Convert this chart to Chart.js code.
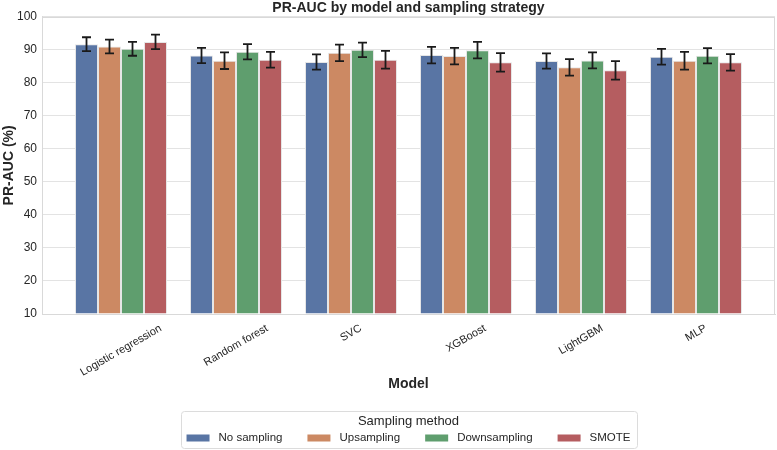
<!DOCTYPE html>
<html>
<head>
<meta charset="utf-8">
<script src="https://cdn.jsdelivr.net/npm/chart.js@4"></script>
<style>
  html, body { margin: 0; padding: 0; background: #fff; }
  #wrap { width: 777px; height: 450px; }
</style>
</head>
<body>
<div id="wrap"><canvas id="chart"></canvas></div>
<script>
// values (PR-AUC %, with error bar half-lengths)
var models = ['Logistic regression', 'Random forest', 'SVC', 'XGBoost', 'LightGBM', 'MLP'];
var methods = ['No sampling', 'Upsampling', 'Downsampling', 'SMOTE'];
var yTicks = [10, 20, 30, 40, 50, 60, 70, 80, 90, 100];

var noSampling      = [91.7, 88.3, 86.3, 88.4, 86.6, 87.9];
var noSamplingErr   = [2.1, 2.3, 2.3, 2.5, 2.3, 2.4];
var upsampling      = [91.0, 86.7, 89.1, 88.1, 84.7, 86.7];
var upsamplingErr   = [2.1, 2.5, 2.5, 2.5, 2.5, 2.7];
var downsampling    = [90.3, 89.4, 90.0, 89.9, 86.8, 88.2];
var downsamplingErr = [2.1, 2.3, 2.2, 2.5, 2.4, 2.3];
var smote           = [92.4, 87.0, 87.0, 86.2, 83.8, 86.2];
var smoteErr        = [2.2, 2.4, 2.7, 2.8, 2.8, 2.5];

var colors = ['#5975a4', '#cc8963', '#5f9e6e', '#b55d60'];
var seriesValues = [noSampling, upsampling, downsampling, smote];
var seriesErrs = [noSamplingErr, upsamplingErr, downsamplingErr, smoteErr];

Chart.defaults.font.family = "'Liberation Sans', Arial, sans-serif";
Chart.defaults.color = '#262626';

var datasets = [];
for (var s = 0; s < methods.length; s++) {
  datasets.push({
    label: methods[s],
    data: seriesValues[s].map(function (v, i) { return { x: i, y: v }; }),
    errs: seriesErrs[s],
    backgroundColor: colors[s],
    borderColor: '#e6e6e6',
    borderWidth: 1,
    borderSkipped: 'start',
    base: 10,
    categoryPercentage: 0.8,
    barPercentage: 1.0
  });
}

// light frame round the plot (seaborn whitegrid spines)
var frame = {
  id: 'frame',
  beforeDatasetsDraw: function (chart) {
    var a = chart.chartArea, ctx = chart.ctx;
    ctx.save();
    ctx.strokeStyle = '#d9d9d9';
    ctx.lineWidth = 1;
    ctx.strokeRect(Math.round(a.left) + 0.5, Math.round(a.top) + 0.5,
      Math.round(a.right - a.left) - 1, Math.round(a.bottom - a.top));
    ctx.restore();
  }
};

var errorBars = {
  id: 'errorBars',
  afterDatasetsDraw: function (chart) {
    var ctx = chart.ctx, y = chart.scales.y;
    ctx.save();
    ctx.strokeStyle = '#1a1a1a';
    ctx.lineWidth = 1.8;
    chart.data.datasets.forEach(function (ds, di) {
      var meta = chart.getDatasetMeta(di);
      meta.data.forEach(function (bar, i) {
        var v = ds.data[i].y, e = ds.errs[i];
        var top = y.getPixelForValue(v + e), bot = y.getPixelForValue(v - e);
        var cap = 4.5;
        ctx.beginPath();
        ctx.moveTo(bar.x, top); ctx.lineTo(bar.x, bot);
        ctx.moveTo(bar.x - cap, top); ctx.lineTo(bar.x + cap, top);
        ctx.moveTo(bar.x - cap, bot); ctx.lineTo(bar.x + cap, bot);
        ctx.stroke();
      });
    });
    ctx.restore();
  }
};

// rotated category labels, centred under each group
var xLabels = {
  id: 'xLabels',
  afterDraw: function (chart) {
    var ctx = chart.ctx, x = chart.scales.x, a = chart.chartArea;
    var ang = 30 * Math.PI / 180, fs = 11;
    ctx.save();
    ctx.font = fs + "px 'Liberation Sans', Arial, sans-serif";
    ctx.fillStyle = '#262626';
    ctx.textAlign = 'center';
    ctx.textBaseline = 'middle';
    models.forEach(function (m, i) {
      var w = ctx.measureText(m).width;
      var h = fs * 1.15;
      var px = x.getPixelForValue(i);
      var py = a.bottom + 8 + (w * Math.sin(ang) + h * Math.cos(ang)) / 2;
      ctx.save();
      ctx.translate(px, py);
      ctx.rotate(-ang);
      ctx.fillText(m, 0, 0);
      ctx.restore();
    });
    ctx.restore();
  }
};

// boxed legend with title under the axis
var boxLegend = {
  id: 'boxLegend',
  afterDraw: function (chart) {
    var ctx = chart.ctx, a = chart.chartArea;
    var cx = (a.left + a.right) / 2;
    var fs = 11.5, sw = 23, sh = 7, gapText = 9, gapItem = 25;
    ctx.save();
    ctx.font = fs + "px 'Liberation Sans', Arial, sans-serif";
    var widths = methods.map(function (m) { return ctx.measureText(m).width; });
    var total = 0;
    widths.forEach(function (w, i) { total += sw + gapText + w + (i < widths.length - 1 ? gapItem : 0); });
    var bx = cx - total / 2 - 6, bw = total + 12, by = 411, bh = 37;
    ctx.fillStyle = '#fff';
    ctx.strokeStyle = '#dcdcdc';
    ctx.lineWidth = 1;
    ctx.beginPath();
    ctx.roundRect(Math.round(bx) + 0.5, by + 0.5, Math.round(bw), bh, 3);
    ctx.fill();
    ctx.stroke();

    ctx.fillStyle = '#262626';
    ctx.textAlign = 'center';
    ctx.textBaseline = 'middle';
    ctx.font = "13px 'Liberation Sans', Arial, sans-serif";
    ctx.fillText('Sampling method', cx, 421);

    ctx.font = fs + "px 'Liberation Sans', Arial, sans-serif";
    ctx.textAlign = 'left';
    var px = cx - total / 2, py = 438;
    methods.forEach(function (m, i) {
      ctx.fillStyle = colors[i];
      ctx.fillRect(px, py - sh / 2, sw, sh);
      ctx.fillStyle = '#262626';
      ctx.fillText(m, px + sw + gapText, py);
      px += sw + gapText + widths[i] + gapItem;
    });
    ctx.restore();
  }
};

new Chart(document.getElementById('chart'), {
  type: 'bar',
  data: { datasets: datasets },
  plugins: [frame, errorBars, xLabels, boxLegend],
  options: {
    responsive: true,
    maintainAspectRatio: false,
    animation: false,
    layout: { padding: { left: 0, right: 2, top: 0, bottom: 57.6 } },
    plugins: {
      legend: { display: false },
      tooltip: { enabled: false },
      title: {
        display: true,
        fullSize: false,
        text: 'PR-AUC by model and sampling strategy',
        font: { size: 14, weight: 'bold' },
        color: '#262626',
        padding: { top: 0, bottom: 0 }
      }
    },
    scales: {
      x: {
        type: 'linear',
        offset: false,
        min: -0.687,
        max: 5.687,
        grid: { display: false, drawTicks: false, offset: false },
        border: { display: true, color: '#d9d9d9' },
        afterBuildTicks: function (scale) {
          scale.ticks = models.map(function (m, i) { return { value: i }; });
        },
        ticks: { display: false },
        title: {
          display: true,
          text: 'Model',
          font: { size: 14, weight: 'bold' },
          color: '#262626',
          padding: { top: 61.6, bottom: 0 }
        }
      },
      y: {
        min: yTicks[0],
        max: yTicks[yTicks.length - 1],
        afterBuildTicks: function (scale) {
          scale.ticks = yTicks.map(function (v) { return { value: v }; });
        },
        afterFit: function (scale) { scale.width = 42; },
        grid: { color: '#e3e3e3', drawTicks: false },
        border: { display: true, color: '#d9d9d9' },
        ticks: { padding: 5, font: { size: 12 }, color: '#262626' },
        title: {
          display: true,
          text: 'PR-AUC (%)',
          font: { size: 14, weight: 'bold' },
          color: '#262626',
          padding: { top: 1, bottom: 0 }
        }
      }
    }
  }
});
</script>
</body>
</html>
